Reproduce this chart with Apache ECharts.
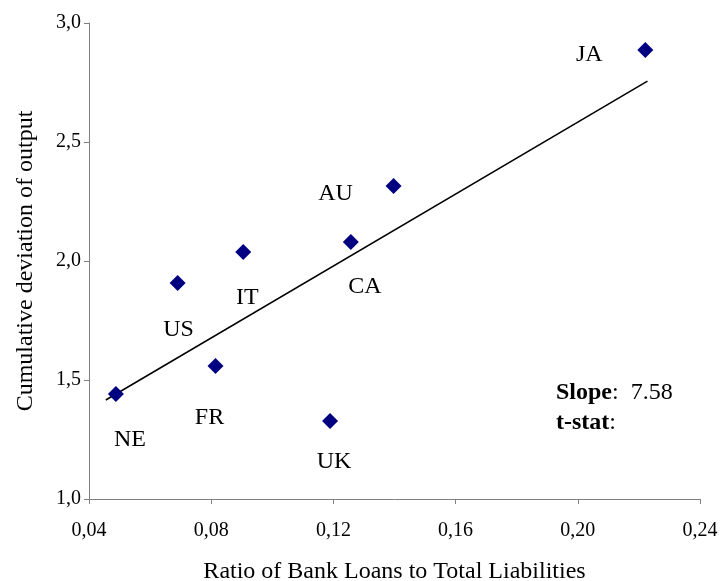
<!DOCTYPE html>
<html>
<head>
<meta charset="utf-8">
<script src="https://cdn.jsdelivr.net/npm/echarts@6/dist/echarts.min.js"></script>
<style>
  html, body { margin: 0; padding: 0; background: #fff; }
  #chart { width: 721px; height: 581px; }
</style>
</head>
<body>
<div id="chart"></div>
<script>
// countries and their values
var countries = ['NE', 'US', 'FR', 'IT', 'CA', 'UK', 'AU', 'JA']
var loanRatio = [0.0488, 0.069, 0.0814, 0.0905, 0.1257, 0.1189, 0.1397, 0.2221]
var outputDev = [1.441, 1.908, 1.559, 2.038, 2.080, 1.328, 2.315, 2.887]
// fitted line ends
var trendX = [0.0455, 0.2228]
var trendY = [1.416, 2.756]
var xTicks = [0.04, 0.08, 0.12, 0.16, 0.20, 0.24]
var yTicks = [1.0, 1.5, 2.0, 2.5, 3.0]

// label placement (pixels from the marker)
var labelOffsets = [[14, 46], [1, 47], [-6, 52], [4, 46], [14, 45], [4, 41], [-58, 8], [-56, 5]]

var font = '"Liberation Serif", "Times New Roman", serif'
var chart = echarts.init(document.getElementById('chart'))

var points = countries.map(function (c, i) {
  return {
    name: c,
    value: [loanRatio[i], outputDev[i]],
    label: { offset: labelOffsets[i] }
  }
})
var trend = trendX.map(function (x, i) { return [x, trendY[i]] })

function comma (v, digits) {
  return v.toFixed(digits).replace('.', ',')
}

chart.setOption({
  backgroundColor: '#fff',
  animation: false,
  textStyle: { fontFamily: font },
  grid: { left: 89, top: 23, right: 21, bottom: 82, outerBoundsMode: 'none', containLabel: false },
  xAxis: {
    type: 'value',
    min: xTicks[0],
    max: xTicks[xTicks.length - 1],
    interval: 0.04,
    name: 'Ratio of Bank Loans to Total Liabilities',
    nameLocation: 'middle',
    nameGap: 61,
    nameTextStyle: { fontFamily: font, fontSize: 24, color: '#000' },
    axisLine: { lineStyle: { color: '#808080', width: 1 } },
    axisTick: { inside: false, length: 5, lineStyle: { color: '#808080' } },
    axisLabel: {
      fontFamily: font, fontSize: 20, color: '#000', margin: 22,
      formatter: function (v) { return comma(v, 2) }
    },
    splitLine: { show: false }
  },
  yAxis: {
    type: 'value',
    min: yTicks[0],
    max: yTicks[yTicks.length - 1],
    interval: 0.5,
    name: 'Cumulative deviation of output',
    nameLocation: 'middle',
    nameGap: 51,
    nameTextStyle: { fontFamily: font, fontSize: 24, color: '#000' },
    axisLine: { show: true, lineStyle: { color: '#808080', width: 1 } },
    axisTick: { show: true, inside: false, length: 5, lineStyle: { color: '#808080' } },
    axisLabel: {
      fontFamily: font, fontSize: 20, color: '#000', margin: 8,
      formatter: function (v) { return comma(v, 1) }
    },
    splitLine: { show: false }
  },
  graphic: [
    {
      type: 'text', left: 556, top: 381,
      style: {
        text: '{b|Slope}:  7.58',
        font: '24px ' + font,
        fill: '#000',
        rich: { b: { fontWeight: 'bold', fontSize: 24, fontFamily: font } }
      }
    },
    {
      type: 'text', left: 556, top: 411,
      style: {
        text: '{b|t-stat}:',
        font: '24px ' + font,
        fill: '#000',
        rich: { b: { fontWeight: 'bold', fontSize: 24, fontFamily: font } }
      }
    }
  ],
  series: [
    {
      type: 'line',
      data: trend,
      symbol: 'none',
      lineStyle: { color: '#000', width: 1.5 },
      z: 2
    },
    {
      type: 'scatter',
      data: points,
      symbol: 'path://M0,-1L1,0L0,1L-1,0Z',
      symbolSize: 16,
      itemStyle: { color: '#000080', opacity: 1 },
      label: {
        show: true,
        position: 'inside',
        formatter: '{b}',
        fontFamily: font,
        fontSize: 24,
        color: '#000',
        textBorderWidth: 0
      },
      z: 3
    }
  ]
})
</script>
</body>
</html>
